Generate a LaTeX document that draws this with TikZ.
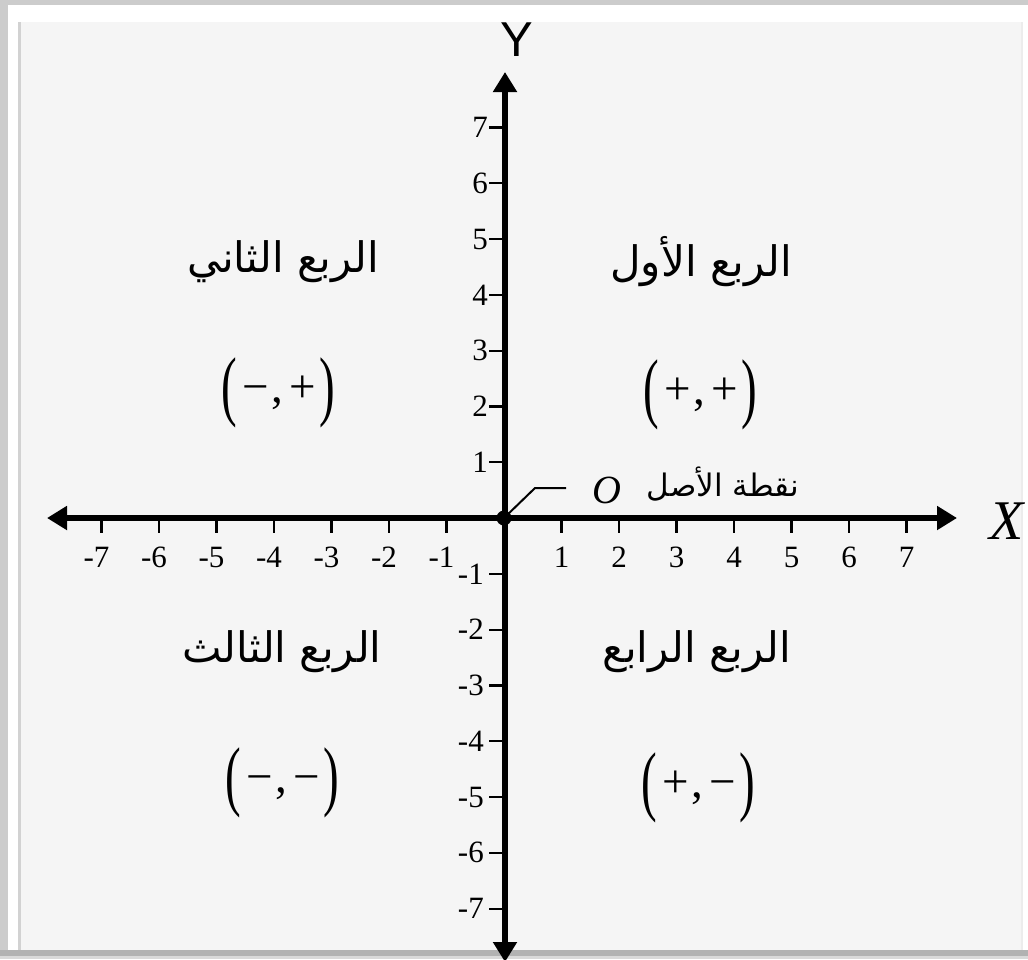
\documentclass[tikz,border=0pt]{standalone}
\usepackage{fontspec}
\usepackage{graphicx}
\setmainfont{Liberation Serif}
\newfontfamily\arabicfont[Script=Arabic]{DejaVu Sans}
\newfontfamily\sansY{Liberation Sans}
\TeXXeTstate=1
\usetikzlibrary{arrows.meta}
\newcommand\bigpar[1]{\raisebox{-0.2em}{\scalebox{1}[1.65]{#1}}}
\newcommand\tpl[2]{\bigpar{(}\kern0.12em#1\kern0.06em,\kern0.12em#2\kern0.08em\bigpar{)}}
\tikzset{
  axisline/.style={line width=5.5pt},
  tickline/.style={line width=2.2pt},
  ticklbl/.style={font=\fontsize{31}{31}\selectfont, inner sep=0pt},
  quadlbl/.style={font=\arabicfont\fontsize{42}{48}\selectfont, inner sep=0pt},
  tuplelbl/.style={font=\fontsize{47}{52}\selectfont, inner sep=0pt},
  tip/.tip={Triangle[length=20pt,width=23pt]}
}
\begin{document}
\begin{tikzpicture}[x=1pt,y=-1pt]
\useasboundingbox (0,0) rectangle (1028,959);
% frame
\fill[gray!40] (0,0) rectangle (1028,959);
\fill[white] (8,5) rectangle (1028,953);
\fill[black!4] (18,22) rectangle (1022,953);
\fill[gray!35] (18,22) rectangle (21,953);
\fill[gray!15] (1021,22) rectangle (1023,953);
\fill[gray!60] (0,950) rectangle (1028,956);
\fill[gray!30] (0,956) rectangle (1028,959);
% axes
\coordinate (xl) at (47,518);
\coordinate (xr) at (957,518);
\coordinate (yt) at (505,72);
\coordinate (yb) at (505,962);
\draw[axisline,tip-tip] (xl) -- (xr);
\draw[axisline,tip-tip] (yb) -- (yt);
% x ticks
\foreach \k in {-7,...,-1,1,2,...,7}{
  \draw[tickline] (504+57.5*\k,518) -- (504+57.5*\k,533);
}
\foreach \k in {-7,...,-1}{
  \node[ticklbl] (xlab\k) at (499+57.5*\k,557) {-\the\numexpr-\k\relax};
}
\foreach \k in {1,...,7}{
  \node[ticklbl] (xlab\k) at (504+57.5*\k,557) {\k};
}
% y ticks
\foreach \k in {-7,...,-1,1,2,...,7}{
  \draw[tickline] (489,518-55.8*\k) -- (505,518-55.8*\k);
}
\foreach \k in {1,...,7}{
  \node[ticklbl,anchor=east] (ylab\k) at (488,518-55.8*\k) {\k};
}
\foreach \k in {-7,...,-1}{
  \node[ticklbl,anchor=east] (ylab\k) at (484,518-55.8*\k) {-\the\numexpr-\k\relax};
}
% axis labels
\node[font=\sansY\fontsize{49}{49}\selectfont, inner sep=0pt] (Ylab) at (517,40) {Y};
\node[font=\itshape\fontsize{56}{56}\selectfont, inner sep=0pt] (Xlab) at (1007,521) {X};
% origin
\fill (504,518) circle (7.5);
\node[inner sep=0pt] (orig) at (504,518) {};
\coordinate (lead1) at (535,488);
\coordinate (lead2) at (566,488);
\draw[line width=2pt] (orig.center) -- (lead1) -- (lead2);
\node[font=\itshape\fontsize{40}{40}\selectfont, inner sep=0pt] (Olab) at (607,490) {O};
\node[font=\arabicfont\fontsize{31}{36}\selectfont, inner sep=0pt] (asl) at (723,484) {\beginR نقطة الأصل\endR};
% quadrant labels
\node[quadlbl] (q2) at (283,262) {\beginR الربع الثاني\endR};
\node[quadlbl] (q1) at (701,262) {\beginR الربع الأول\endR};
\node[quadlbl] (q3) at (282,652) {\beginR الربع الثالث\endR};
\node[quadlbl] (q4) at (697,652) {\beginR الربع الرابع\endR};
\node[tuplelbl] (t2) at (278,393) {\tpl{−}{+}};
\node[tuplelbl] (t1) at (700,395) {\tpl{+}{+}};
\node[tuplelbl] (t3) at (282,783) {\tpl{−}{−}};
\node[tuplelbl] (t4) at (698,788) {\tpl{+}{−}};
\end{tikzpicture}
\end{document}
